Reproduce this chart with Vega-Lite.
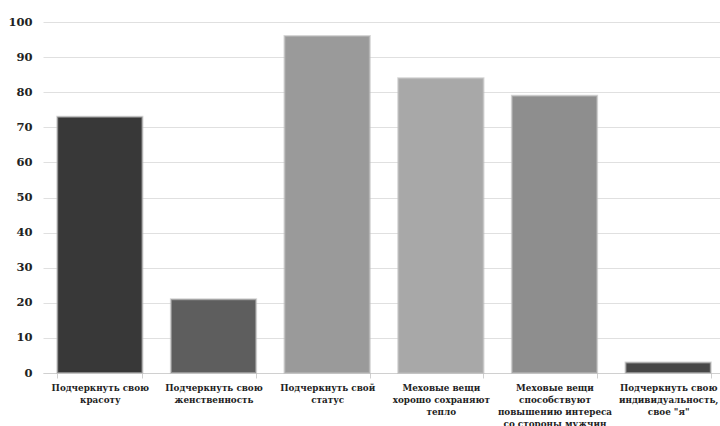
{
  "$schema": "https://vega.github.io/schema/vega-lite/v6.json",
  "width": 682,
  "height": 351,
  "autosize": {"type": "none"},
  "padding": {"left": 43, "top": 22, "right": 0, "bottom": 53},
  "background": "white",
  "data": {
    "values": [
      {"cat": "Подчеркнуть свою|красоту", "value": 73, "color": "#383838"},
      {"cat": "Подчеркнуть свою|женственность", "value": 21, "color": "#5e5e5e"},
      {"cat": "Подчеркнуть свой|статус", "value": 96, "color": "#9a9a9a"},
      {"cat": "Меховые вещи|хорошо сохраняют|тепло", "value": 84, "color": "#a8a8a8"},
      {"cat": "Меховые вещи|способствуют|повышению интереса|со стороны мужчин", "value": 79, "color": "#8e8e8e"},
      {"cat": "Подчеркнуть свою|индивидуальность,|свое \"я\"", "value": 3, "color": "#474747"}
    ]
  },
  "mark": {"type": "bar", "strokeWidth": 2, "stroke": "#bbbbbb", "strokeOpacity": 0.6},
  "encoding": {
    "x": {
      "field": "cat",
      "type": "nominal",
      "sort": null,
      "scale": {"paddingInner": 0.25, "paddingOuter": 0.125},
      "axis": {
        "title": null,
        "labelAngle": 0,
        "labelExpr": "split(datum.label, '|')",
        "labelFont": "DejaVu Serif",
        "labelFontWeight": "bold",
        "labelFontSize": 8.8,
        "labelLineHeight": 12,
        "labelColor": "#222",
        "labelPadding": 5,
        "domainColor": "#d0d0d0",
        "tickColor": "#d0d0d0",
        "tickBand": "extent",
        "tickSize": 5
      }
    },
    "y": {
      "field": "value",
      "type": "quantitative",
      "scale": {"domain": [0, 100]},
      "axis": {
        "title": null,
        "values": [0, 10, 20, 30, 40, 50, 60, 70, 80, 90, 100],
        "domain": false,
        "ticks": false,
        "labelFont": "DejaVu Serif",
        "labelFontWeight": "bold",
        "labelFontSize": 11.5,
        "labelColor": "#222",
        "labelPadding": 11,
        "gridColor": "#e0e0e0"
      }
    },
    "color": {"field": "color", "type": "nominal", "scale": null}
  },
  "config": {"view": {"stroke": null}}
}
